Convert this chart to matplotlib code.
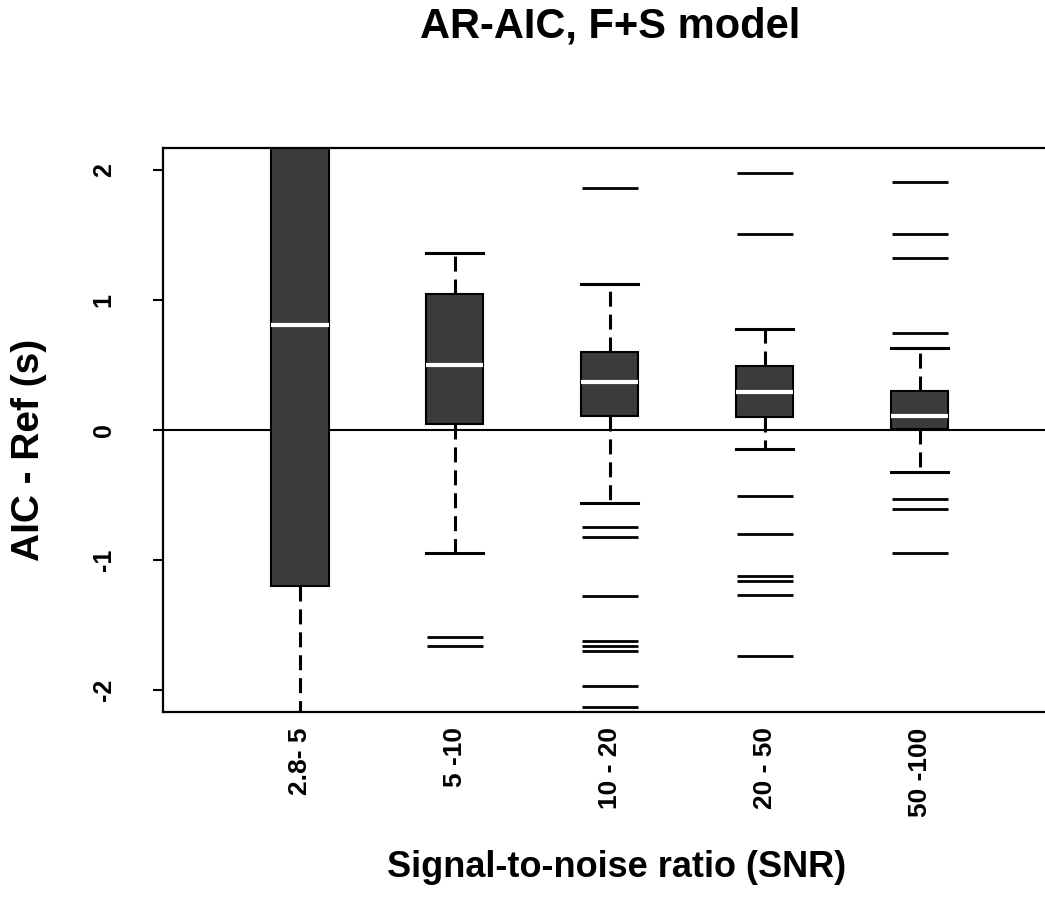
import numpy as np
import matplotlib.pyplot as plt

plt.rcParams['font.family'] = ['Liberation Sans', 'DejaVu Sans']
plt.rcParams['font.weight'] = 'bold'

groups = ['2.8- 5', '5 -10', '10 - 20', '20 - 50', '50 -100']
medians = [0.81, 0.50, 0.37, 0.29, 0.11]
q1 = [-1.20, 0.05, 0.11, 0.10, 0.01]
q3 = [2.60, 1.05, 0.60, 0.49, 0.30]
whis_lo = [-3.50, -0.95, -0.56, -0.15, -0.32]
whis_hi = [4.00, 1.36, 1.12, 0.78, 0.63]
outliers = [
    [],
    [-1.59, -1.66],
    [1.86, -0.75, -0.82, -1.28, -1.62, -1.66, -1.70, -1.97, -2.13],
    [1.98, 1.51, -0.51, -0.80, -1.12, -1.16, -1.27, -1.74],
    [1.91, 1.51, 1.32, 0.75, -0.53, -0.61, -0.95],
]

stats = []
for i in range(len(groups)):
    stats.append(dict(med=medians[i], q1=q1[i], q3=q3[i],
                      whislo=whis_lo[i], whishi=whis_hi[i],
                      fliers=outliers[i], label=groups[i]))

fig = plt.figure(figsize=(10.45, 9.06), dpi=100)
ax = fig.add_axes([163 / 1045, 1 - 712 / 906, 1 - 163 / 1045, (712 - 148) / 906])

pos = np.arange(1, len(groups) + 1)
w = 0.37
ax.axhline(0, color='k', lw=1.5, zorder=1)
ax.bxp(stats, positions=pos, widths=w, capwidths=w, patch_artist=True,
       boxprops=dict(facecolor='#3b3b3b', edgecolor='k', linewidth=1.5),
       medianprops=dict(color='white', linewidth=3),
       whiskerprops=dict(color='k', linewidth=2.2, linestyle=(0, (4.9, 2.6))),
       capprops=dict(color='k', linewidth=2.2),
       flierprops=dict(marker='_', markersize=41, markeredgewidth=2,
                       markeredgecolor='k'),
       zorder=2)

ax.set_xlim(0.116, 5.81)
ax.set_ylim(-2.17, 2.17)
ax.set_yticks([-2, -1, 0, 1, 2])
ax.set_yticklabels(['-2', '-1', '0', '1', '2'], rotation=90, va='center',
                   fontsize=18, fontweight='bold')
ax.tick_params(axis='y', length=7, width=1.5, pad=27)
ax.set_xticks(pos)
ax.set_xticklabels(groups, rotation=90, fontsize=19, fontweight='bold')
ax.tick_params(axis='x', length=0, pad=11)

for s in ['left', 'top', 'bottom']:
    ax.spines[s].set_linewidth(1.6)
ax.spines['right'].set_visible(False)

ax.set_ylabel('AIC - Ref (s)', fontsize=28, fontweight='bold')
ax.yaxis.set_label_coords(-0.1315, 0.465)
ax.set_xlabel('Signal-to-noise ratio (SNR)', fontsize=26, fontweight='bold')
ax.xaxis.set_label_coords(0.514, -0.245)

fig.text(610 / 1045, 1 - 37 / 906, 'AR-AIC, F+S model', ha='center', va='baseline',
         fontsize=30, fontweight='bold')

fig.savefig('out.png', dpi=100)
